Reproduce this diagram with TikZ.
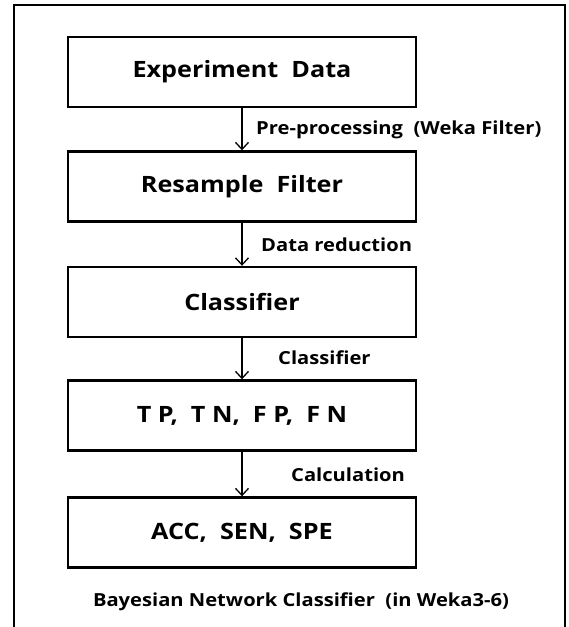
\documentclass[tikz,border=0pt]{standalone}
\usepackage{fontspec}
\setmainfont{Open Sans}[FakeStretch=1.12]
\usetikzlibrary{positioning,arrows.meta}

\begin{document}
\begin{tikzpicture}[
  x=1pt, y=-1pt, font=\bfseries,
  >={Straight Barb[length=7pt,width=13pt,line width=1.3pt]},
  stageBox/.style={draw, line width=2.4pt, align=center, font=\fontsize{22.5}{27}\bfseries,
               minimum width=348pt, minimum height=70pt, inner sep=0pt},
  stepLabel/.style={anchor=west, inner sep=0pt, font=\fontsize{18}{21}\bfseries},
  arr/.style={->, line width=1.3pt},
]
\useasboundingbox (0,0) rectangle (569,627);
% outer frame (bottom edge is off the page)
\draw[line width=2.6pt] (14,640) -- (14,5) -- (565,5) -- (565,640);

\node[stageBox] (data)     at (242,72)    {Experiment\ \ Data};
\node[stageBox] (resample) at (242,186.5) {Resample\ \ Filter};
\node[stageBox] (classif)  at (242,302)   {Classifier};
\node[stageBox] (counts)   at (242,415.5) {T\ P,\ \ T\ N,\ \ F\ P,\ \ F\ N};
\node[stageBox] (metrics)  at (242,532.5) {ACC,\ \ SEN,\ \ SPE};

\node[stepLabel] (prep)   at (256,130) {Pre-processing\ \ (Weka\ Filter)};
\node[stepLabel] (reduce) at (261,245) {Data reduction};
\node[stepLabel] (cls)    at (278,358) {Classifier};
\node[stepLabel] (calc)   at (291,475) {Calculation};

\node[font=\fontsize{18}{21}\bfseries] (caption) at (301,602)
  {Bayesian\ Network\ Classifier\ \ (in\ Weka3-6)};

\draw[arr] (data) -- (resample);
\draw[arr] (resample) -- (classif);
\draw[arr] (classif) -- (counts);
\draw[arr] (counts) -- (metrics);
\end{tikzpicture}
\end{document}
